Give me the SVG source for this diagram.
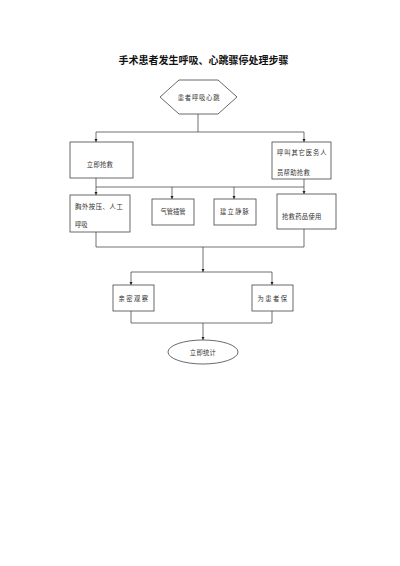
<svg xmlns="http://www.w3.org/2000/svg" width="400" height="566" viewBox="0 0 400 566">
<defs>
<marker id="arr" viewBox="0 0 6 6" refX="6" refY="3" markerWidth="3.5" markerHeight="3.5" orient="auto" markerUnits="userSpaceOnUse">
<path d="M0,0 L6,3 L0,6 Z" fill="#222"/>
</marker>
<style>
.bg{fill:#fff}
.box{fill:#fff;stroke:#444;stroke-width:0.8}
.ln{fill:none;stroke:#333;stroke-width:0.7}
.t{font-family:"Noto Sans CJK SC","Noto Sans CJK JP",sans-serif;font-size:6.3px;fill:#333;dominant-baseline:central}
.c{text-anchor:middle}
.title{font-family:"Noto Sans CJK SC","Noto Sans CJK JP",sans-serif;font-size:10px;font-weight:bold;fill:#111;text-anchor:middle;dominant-baseline:central}
</style>
</defs>
<rect class="bg" x="0" y="0" width="400" height="566"/>
<text class="title" x="203.5" y="59">手术患者发生呼吸、心跳骤停处理步骤</text>

<g id="connectors">
<path class="ln" d="M198,114 V132"/>
<path class="ln" d="M96,132 H304"/>
<path class="ln" d="M96,132 V142" marker-end="url(#arr)"/>
<path class="ln" d="M304,132 V142" marker-end="url(#arr)"/>
<path class="ln" d="M96,178 V195" marker-end="url(#arr)"/>
<path class="ln" d="M96,187 H304"/>
<path class="ln" d="M304,179 V194" marker-end="url(#arr)"/>
<path class="ln" d="M172,187 V199" marker-end="url(#arr)"/>
<path class="ln" d="M234,187 V199" marker-end="url(#arr)"/>
<path class="ln" d="M96,232 V247 H304 V229"/>
<path class="ln" d="M203,247 V272" marker-end="url(#arr)"/>
<path class="ln" d="M131,272 H272"/>
<path class="ln" d="M131,272 V285" marker-end="url(#arr)"/>
<path class="ln" d="M272,272 V285" marker-end="url(#arr)"/>
<path class="ln" d="M131,311 V323 H272 V311"/>
<path class="ln" d="M203,323 V340" marker-end="url(#arr)"/>
</g>

<g id="start">
<polygon class="box" points="160,97 179,80 218,80 237,97 218,114 179,114"/>
<text class="t c" x="199" y="97" letter-spacing="0.8">患者呼吸心跳</text>
</g>

<g id="rescue">
<rect class="box" x="70" y="142" width="63" height="36"/>
<text class="t c" x="100" y="164" letter-spacing="0.3">立即抢救</text>
</g>

<g id="call">
<rect class="box" x="272" y="142" width="59" height="37"/>
<text class="t" x="277" y="152" letter-spacing="0.9">呼叫其它医务人</text>
<text class="t" x="277" y="172" letter-spacing="0.3">员帮助抢救</text>
</g>

<g id="cpr">
<rect class="box" x="70" y="195" width="60" height="37"/>
<text class="t" x="75" y="206" letter-spacing="0.6">胸外按压、人工</text>
<text class="t" x="75" y="224">呼吸</text>
</g>

<g id="intubation">
<rect class="box" x="152" y="199" width="42" height="26"/>
<text class="t c" x="173" y="211">气管插管</text>
</g>

<g id="iv">
<rect class="box" x="214" y="199" width="42" height="26"/>
<text class="t c" x="235" y="211" letter-spacing="1.2">建立静脉</text>
</g>

<g id="drugs">
<rect class="box" x="277" y="194" width="59" height="35"/>
<text class="t" x="282" y="216" letter-spacing="0.3">抢救药品使用</text>
</g>

<g id="observe">
<rect class="box" x="113" y="285" width="41" height="26"/>
<text class="t c" x="134" y="298" letter-spacing="1.5">亲密观察</text>
</g>

<g id="warm">
<rect class="box" x="252" y="285" width="41" height="26"/>
<text class="t c" x="273" y="298" letter-spacing="1.5">为患者保</text>
</g>

<g id="stats">
<ellipse class="box" cx="203" cy="352" rx="35" ry="12"/>
<text class="t c" x="203" y="352" letter-spacing="0.3">立即统计</text>
</g>
</svg>
